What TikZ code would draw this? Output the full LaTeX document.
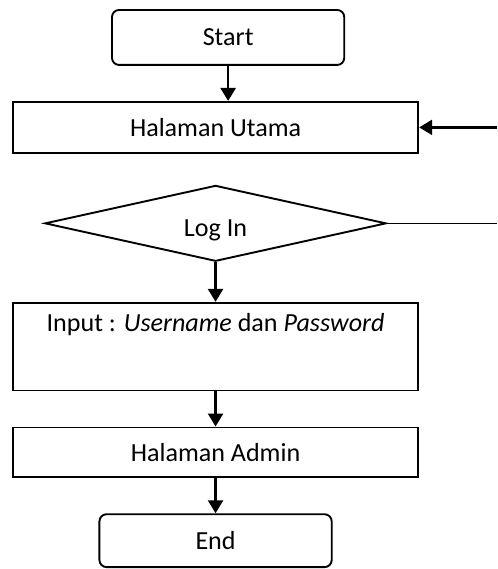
\documentclass[tikz,border=0pt]{standalone}
\usepackage{fontspec}
\setmainfont{Carlito}
\usetikzlibrary{matrix}
\usetikzlibrary{arrows.meta}
\usetikzlibrary{calc}
\usetikzlibrary{shapes.geometric}

\begin{document}
\begin{tikzpicture}[auto, >={Triangle[width=6.3pt,length=5.5pt]}, font=\fontsize{11pt}{13pt}\selectfont]

    % TikZ styles for drawing %%%%%%%%%%%%%%%%%%%%%%%%%%%%%%%%%%%%%%%%%%%%%%%%%%%%%%
    \tikzstyle{block} = [draw,rectangle,line width=0.8pt,minimum width=171pt,inner sep=0pt]
    \tikzstyle{rounded} = [draw,rectangle,rounded corners=3pt,line width=0.8pt,minimum width=98pt]
    \tikzstyle{decision} = [draw,diamond,aspect=4.5,line width=0.8pt,minimum width=144pt,minimum height=32pt,inner sep=0pt]
    \tikzstyle{connector} = [->,line width=1.1pt]
    \tikzstyle{line} = [line width=0.55pt]

    % Node placement with matrix library (6x2 array) %%%%%%%%%%%%%%%%%%%%%%%%%%%%%%%%%%%%
    \matrix[ampersand replacement=\&, row sep=14.8pt, column sep=32.9pt] {

      % row 1
      \node[rounded, minimum height=23.2pt, xshift=5.3pt] (start) {Start}; \&
      \\

      % row 2
      \node[block, minimum height=21.5pt] (utama) {Halaman Utama}; \&
      \coordinate (back);
      \\[-1.7pt]

      % row 3
      \node[decision, text height=11.2pt, text depth=0pt] (login) {Log In}; \&
      \coordinate (exit);
      \\[2.1pt]

      % row 4
      \node[block, text height=9pt, text depth=22pt, inner sep=3pt] (input) {Input : \textit{Username} dan \textit{Password}}; \&
      \\

      % row 5
      \node[block, minimum height=21pt] (admin) {Halaman Admin}; \&
      \\

      % row 6
      \node[rounded, minimum height=22.3pt] (finish) {End}; \&
      \\
    };

     % Now link the nodes %%%%%%%%%%%%%%%%%%%%%%%%%%%%%%%%%%%%%%%%%%%%%%%%%%%%%%%%%%%%%%%%
     \draw [connector] (start.south) -- (start.south |- utama.north);
     \draw [connector] (back) -- (utama);
     \draw [line]      (login) -- (exit);
     \draw [connector] (login) -- (input);
     \draw [connector] (input) -- (admin);
     \draw [connector] (admin) -- (finish);

     % Frame as in the page %%%%%%%%%%%%%%%%%%%%%%%%%%%%%%%%%%%%%%%%%%%%%%%%%%%%%%%%%%%%%
     \pgfresetboundingbox
     \useasboundingbox ($(utama.west |- start.north)+(-5.05pt,3.8pt)$) rectangle ($(back |- finish.south)+(0,-0.4pt)$);

\end{tikzpicture}
\end{document}
